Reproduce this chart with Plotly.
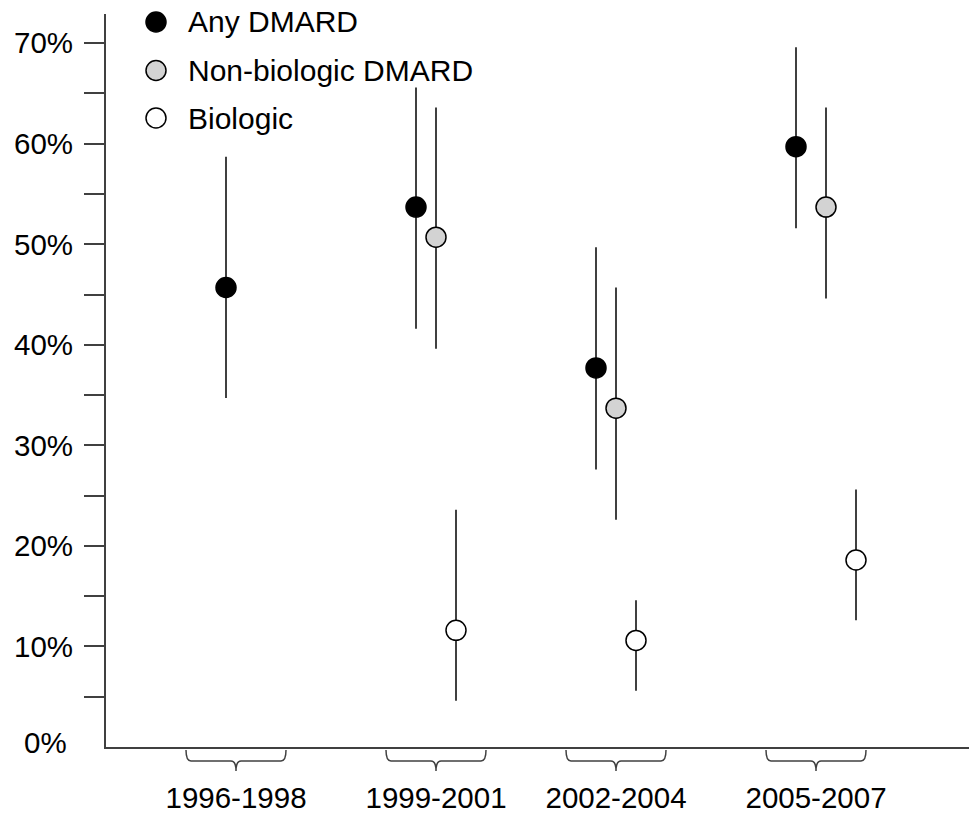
import plotly.graph_objects as go

# ---- data ----
periods = ["1996-1998", "1999-2001", "2002-2004", "2005-2007"]

any_dmard = [45.7, 53.7, 37.7, 59.7]
any_dmard_lo = [34.7, 41.6, 27.6, 51.6]
any_dmard_hi = [58.7, 65.6, 49.7, 69.6]

nonbio = [None, 50.7, 33.7, 53.7]
nonbio_lo = [None, 39.6, 22.6, 44.6]
nonbio_hi = [None, 63.6, 45.7, 63.6]

bio = [None, 11.6, 10.6, 18.6]
bio_lo = [None, 4.6, 5.6, 12.6]
bio_hi = [None, 23.6, 14.6, 25.6]

y_ticks = [5, 10, 15, 20, 25, 30, 35, 40, 45, 50, 55, 60, 65, 70]

# ---- layout helpers (positions / styles, not data) ----
W, H = 969, 814
ML, MR, MT, MB = 106, 0, 14, 67
PW, PH = W - ML - MR, H - MT - MB

period_center = [1.30, 3.30, 5.10, 7.10]
dodge = {
    "any": [-0.10, -0.20, -0.20, -0.20],
    "non": [0.0, 0.0, 0.0, 0.10],
    "bio": [0.20, 0.20, 0.20, 0.40],
}

FONT = "Liberation Sans, Arial, Helvetica, sans-serif"
AX = "#404040"
TICK_SIZE = 29.5
LEG_SIZE = 30


def px_x(px):
    return (px - ML) / PW


def px_y(py):
    return (H - MB - py) / PH


def xs(key, vals):
    return [c + d for c, d, v in zip(period_center, dodge[key], vals)]


def err(vals, lo, hi):
    up = [None if v is None else h - v for v, h in zip(vals, hi)]
    dn = [None if v is None else v - l for v, l in zip(vals, lo)]
    return dict(type="data", symmetric=False, array=up, arrayminus=dn,
                width=0, thickness=2, color=AX)


series = [
    ("any", "Any DMARD", any_dmard, any_dmard_lo, any_dmard_hi, "black"),
    ("non", "Non-biologic DMARD", nonbio, nonbio_lo, nonbio_hi, "#d3d3d3"),
    ("bio", "Biologic", bio, bio_lo, bio_hi, "white"),
]

fig = go.Figure()
for key, name, vals, lo, hi, fill in series:
    fig.add_trace(go.Scatter(
        x=xs(key, vals), y=vals, mode="markers", name=name,
        showlegend=False,
        marker=dict(size=20, color=fill, line=dict(color="black", width=1.5)),
        error_y=err(vals, lo, hi),
        hoverinfo="skip",
    ))

shapes = []
annotations = []

# curly brackets under the x axis
half, r = 0.50, 0.05
y_top, y_h, y_tip = px_y(750), px_y(761), px_y(771)
for c in period_center:
    x0, x1 = c - half, c + half
    path = (f"M {x0},{y_top} Q {x0},{y_h} {x0 + r},{y_h} "
            f"L {c - r},{y_h} Q {c},{y_h} {c},{y_tip} "
            f"Q {c},{y_h} {c + r},{y_h} "
            f"L {x1 - r},{y_h} Q {x1},{y_h} {x1},{y_top}")
    shapes.append(dict(type="path", path=path, xref="x", yref="paper",
                       line=dict(color=AX, width=1.5)))

# legend (drawn manually so the symbols keep the full marker size)
leg_rows_px = [22, 70.5, 118]
for (key, name, vals, lo, hi, fill), ry in zip(series, leg_rows_px):
    shapes.append(dict(type="circle", xref="paper", yref="paper",
                       xsizemode="pixel", ysizemode="pixel",
                       xanchor=px_x(156), yanchor=px_y(ry),
                       x0=-10, x1=10, y0=-10, y1=10,
                       fillcolor=fill, line=dict(color="black", width=1.5)))
    annotations.append(dict(x=px_x(186), y=px_y(ry), xref="paper", yref="paper",
                            text=name, showarrow=False,
                            xanchor="left", yanchor="middle",
                            font=dict(size=LEG_SIZE, family=FONT, color="black")))

annotations.append(dict(x=0, y=0, xref="paper", yref="y", text="0%",
                        showarrow=False, xanchor="right", yanchor="middle",
                        xshift=-37, yshift=5,
                        font=dict(size=TICK_SIZE, family=FONT, color="black")))

fig.update_layout(
    width=W, height=H,
    margin=dict(l=ML, r=MR, t=MT, b=MB),
    paper_bgcolor="white", plot_bgcolor="white",
    font=dict(family=FONT, size=TICK_SIZE, color="black"),
    showlegend=False,
    shapes=shapes,
    annotations=annotations,
    xaxis=dict(range=[0, 8.63], showline=True, linecolor=AX, linewidth=2,
               showgrid=False, zeroline=False, ticks="", automargin=False,
               tickvals=period_center, ticktext=periods,
               ticklabelstandoff=24,
               tickfont=dict(size=TICK_SIZE, family=FONT, color="black")),
    yaxis=dict(range=[0, 72.9], showline=True, linecolor=AX, linewidth=2,
               showgrid=False, zeroline=False, ticks="outside", ticklen=20,
               tickwidth=2, tickcolor=AX, automargin=False,
               tickvals=y_ticks,
               ticktext=[f"{v}%" if v % 10 == 0 else "" for v in y_ticks],
               ticklabelstandoff=5,
               tickfont=dict(size=TICK_SIZE, family=FONT, color="black")),
)

fig.write_html(
    "out.html",
    config={"displayModeBar": False, "staticPlot": True},
    post_script="document.body.style.margin='0';document.body.style.overflow='hidden';",
)
